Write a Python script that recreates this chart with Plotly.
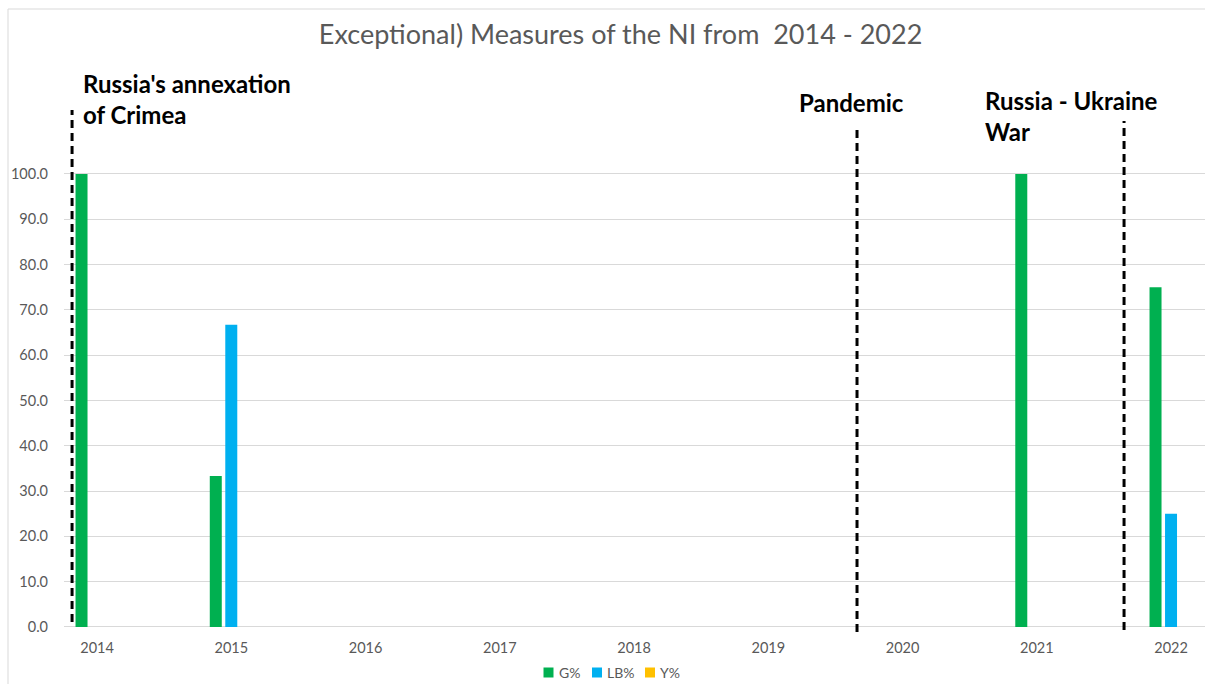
import plotly.graph_objects as go

# Share of measures per year, by category
years = [2014, 2015, 2016, 2017, 2018, 2019, 2020, 2021, 2022]
g_pct = [100.0, 33.3, 0.0, 0.0, 0.0, 0.0, 0.0, 100.0, 75.0]
lb_pct = [0.0, 66.7, 0.0, 0.0, 0.0, 0.0, 0.0, 0.0, 25.0]
y_pct = [0.0, 0.0, 0.0, 0.0, 0.0, 0.0, 0.0, 0.0, 0.0]
y_ticks = [0, 10, 20, 30, 40, 50, 60, 70, 80, 90, 100]

FONT = "Lato, Open Sans, sans-serif"
GREY = "#595959"
GRID = "#D9D9D9"
W, H = 1205, 684
PLOT_L, PLOT_B, PLOT_W, PLOT_H = 64, 636, 1141, 530


def px_x(px):
    return (px - PLOT_L) / PLOT_W


def px_y(py):
    return (PLOT_B - py) / PLOT_H


# name, values, colour, legend swatch centre (px)
series = [("G%", g_pct, "#00B050", 548.5),
          ("LB%", lb_pct, "#00B0F0", 597),
          ("Y%", y_pct, "#FFC000", 650)]

fig = go.Figure()
for name, vals, color, _ in series:
    fig.add_trace(go.Bar(x=years, y=vals, name=name, marker_color=color,
                         marker_line_width=0))

# Dashed markers for key events: (x position, bottom, top)
event_lines = [(2013.814, 1.1, 114.1),
               (2019.661, -1.1, 110.8),
               (2021.650, -0.7, 111.7)]
for x, y0, y1 in event_lines:
    fig.add_trace(go.Scatter(x=[x, x], y=[y0, y1], mode="lines",
                             line=dict(color="black", width=3, dash="8px,5px"),
                             showlegend=False, hoverinfo="skip"))

# Event labels
event_labels = [("Russia's annexation<br>of Crimea", 2013.881, 1.013),
                ("Pandemic", 2019.214, 1.006),
                ("Russia - Ukraine<br>War", 2020.600, 0.981)]
for text, x, y in event_labels:
    fig.add_annotation(text=text, x=x, y=y, xref="x", yref="paper",
                       xanchor="left", yanchor="middle", align="left",
                       showarrow=False,
                       font=dict(family=FONT, size=24, color="black", weight="bold"))

# Legend row under the axis: swatch + label per series
LEG_Y = 672.5
for name, _, color, cx in series:
    fig.add_shape(type="rect", xref="paper", yref="paper",
                  x0=px_x(cx - 5), x1=px_x(cx + 5),
                  y0=px_y(LEG_Y + 5), y1=px_y(LEG_Y - 5),
                  line=dict(width=0), fillcolor=color)
    fig.add_annotation(text=name, xref="paper", yref="paper",
                       x=px_x(cx + 8), y=px_y(LEG_Y),
                       xanchor="left", yanchor="middle", showarrow=False,
                       font=dict(family=FONT, size=14, color=GREY))

# Chart frame
fig.add_shape(type="rect", xref="paper", yref="paper",
              x0=px_x(8), x1=2, y0=-2, y1=px_y(9),
              line=dict(color=GRID, width=1), fillcolor="rgba(0,0,0,0)")

fig.update_layout(
    width=W, height=H,
    margin=dict(l=PLOT_L, r=W - PLOT_L - PLOT_W, t=PLOT_B - PLOT_H, b=H - PLOT_B),
    paper_bgcolor="white", plot_bgcolor="white",
    barmode="group", bargap=0.6536, bargroupgap=0.226,
    showlegend=False,
    title=dict(text="Exceptional) Measures of the NI from  2014 - 2022",
               x=0.515, xref="container", xanchor="center",
               y=1 - 35 / H, yref="container", yanchor="middle",
               font=dict(family=FONT, size=27, color=GREY)),
    xaxis=dict(range=[2013.754, 2022.253], tickmode="array", tickvals=years,
               ticktext=[str(v) for v in years], showgrid=False,
               showline=False, zeroline=False, ticklabelstandoff=1,
               automargin=False,
               tickfont=dict(family=FONT, size=14.5, color=GREY)),
    yaxis=dict(range=[-2, 115], tickmode="array", tickvals=y_ticks,
               tickformat=".1f", showgrid=True, gridcolor=GRID, gridwidth=1,
               zeroline=True, zerolinecolor=GRID, zerolinewidth=1,
               showline=False, ticklabelstandoff=15, automargin=False,
               tickfont=dict(family=FONT, size=14.5, color=GREY)),
)

fig.write_html("out.html")
